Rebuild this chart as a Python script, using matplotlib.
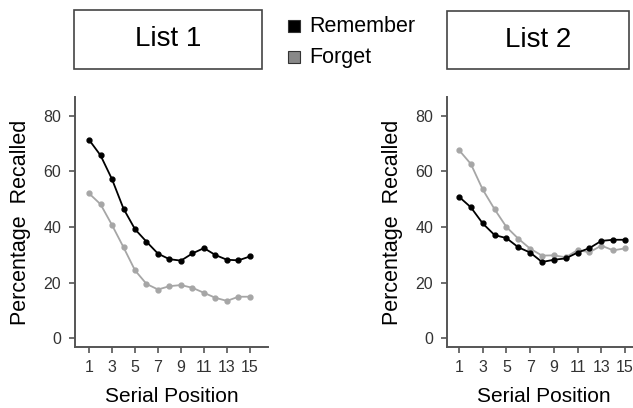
import matplotlib
matplotlib.use("Agg")
import matplotlib.pyplot as plt
from matplotlib.patches import Rectangle

plt.rcParams["font.family"] = ["Liberation Sans", "DejaVu Sans"]

# Données
positions = list(range(1, 16))
list1_remember = [71.4, 65.8, 57.2, 46.6, 39.2, 34.7, 30.4, 28.4, 27.9, 30.5,
                  32.4, 29.9, 28.2, 28.0, 29.4]
list1_forget = [52.1, 48.2, 40.7, 32.7, 24.4, 19.5, 17.5, 18.7, 19.1, 18.1,
                16.3, 14.5, 13.4, 14.9, 14.9]
list2_remember = [50.9, 47.1, 41.3, 37.1, 36.0, 32.7, 30.8, 27.4, 28.2, 28.7,
                  30.8, 32.4, 35.0, 35.4, 35.4]
list2_forget = [67.7, 62.7, 53.5, 46.4, 40.0, 35.8, 32.2, 29.7, 29.8, 29.1,
                31.7, 30.9, 33.3, 31.6, 32.3]
x_ticks = [1, 3, 5, 7, 9, 11, 13, 15]
y_ticks = [0, 20, 40, 60, 80]
titles = ["List 1", "List 2"]
series_names = ["Remember", "Forget"]

W, H = 633, 408
fig = plt.figure(figsize=(W / 100, H / 100), dpi=100)


def frac(x0, y0, x1, y1):
    """Boîte en pixels (origine en haut à gauche) -> fractions de figure."""
    return [x0 / W, 1 - y1 / H, (x1 - x0) / W, (y1 - y0) / H]


panels = [
    (frac(75, 97, 268, 347), (-0.22, 16.57), list1_remember, list1_forget),
    (frac(447, 97, 640, 347), (-0.01, 16.26), list2_remember, list2_forget),
]

for rect, xlim, rem, forg in panels:
    ax = fig.add_axes(rect)
    ax.plot(positions, forg, color="#a6a6a6", lw=1.3, marker="o", ms=3.5,
            zorder=2)
    ax.plot(positions, rem, color="black", lw=1.3, marker="o", ms=3.5,
            zorder=3)
    ax.set_xlim(*xlim)
    ax.set_ylim(-3.2, 86.8)
    ax.set_xticks(x_ticks)
    ax.set_yticks(y_ticks)
    for side in ("top", "right"):
        ax.spines[side].set_visible(False)
    for side in ("left", "bottom"):
        ax.spines[side].set_color("#555555")
        ax.spines[side].set_linewidth(1.4)
    ax.tick_params(direction="out", length=4, width=1.2, color="#555555",
                   labelsize=11.5, labelcolor="#333333")
    ax.tick_params(axis="x", pad=5)
    ax.tick_params(axis="y", pad=6)
    ax.set_xlabel("Serial Position", fontsize=15, labelpad=9)
    ax.set_ylabel("Percentage  Recalled", fontsize=15.5, labelpad=9)

# Cadres de titre
title_boxes = [(74, 10, 262, 69), (447, 11, 629, 69)]
for (x0, y0, x1, y1), txt in zip(title_boxes, titles):
    fig.patches.append(Rectangle((x0 / W, 1 - y1 / H), (x1 - x0) / W,
                                 (y1 - y0) / H, transform=fig.transFigure,
                                 facecolor="white", edgecolor="#444444",
                                 lw=1.2))
    fig.text((x0 + x1) / 2 / W, 1 - (y0 + y1) / 2 / H, txt, fontsize=20,
             ha="center", va="center")

# Légende manuelle
legend_items = [(26, "black"), (57, "#888888")]
for (yc, col), name in zip(legend_items, series_names):
    s = 12
    fig.patches.append(Rectangle(((294 - s / 2) / W, 1 - (yc + s / 2) / H),
                                 s / W, s / H, transform=fig.transFigure,
                                 facecolor=col, edgecolor="#333333", lw=0.8))
    fig.text(309 / W, 1 - yc / H, name, fontsize=15.5, ha="left",
             va="center")

fig.savefig("out.png", dpi=100)
